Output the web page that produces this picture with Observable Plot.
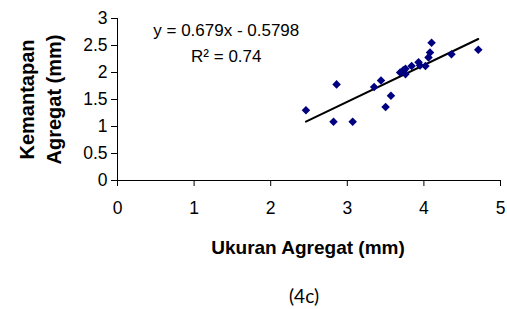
<!DOCTYPE html>
<html>
<head>
<meta charset="utf-8">
<script src="https://cdn.jsdelivr.net/npm/d3@7"></script>
<script src="https://cdn.jsdelivr.net/npm/@observablehq/plot@0.6"></script>
<style>
  html, body { margin: 0; padding: 0; background: #fff; }
</style>
</head>
<body>
<div id="chart"></div>
<script>
// Data
const sizeX = [2.46, 2.82, 2.86, 3.07, 3.35, 3.44, 3.50, 3.57, 3.69, 3.73, 3.76, 3.76, 3.84, 3.93, 3.95, 4.02, 4.06, 4.08, 4.10, 4.36, 4.71];
const stabY = [1.30, 1.09, 1.78, 1.09, 1.73, 1.85, 1.36, 1.57, 2.00, 2.04, 1.97, 2.07, 2.12, 2.19, 2.13, 2.12, 2.28, 2.37, 2.55, 2.34, 2.42];
const trendX = [2.46, 4.71];
const trendY = [1.09, 2.62];
const xTicks = [0, 1, 2, 3, 4, 5];
const yTicks = [0, 0.5, 1, 1.5, 2, 2.5, 3];
const eqText = ["y = 0.679x - 0.5798", "R² = 0.74"];
const eqX = [1.42, 1.42];
const eqY = [2.67, 2.19];
const xLabel = "Ukuran Agregat (mm)";
const yLabel = "Kemantapan\nAgregat (mm)";
const caption = "(4c)";

const points = sizeX.map((x, i) => ({x, y: stabY[i]}));
const trend = trendX.map((x, i) => ({x, y: trendY[i]}));
const eqs = eqText.map((t, i) => ({t, x: eqX[i], y: eqY[i]}));

const chart = Plot.plot({
  width: 507,
  height: 309,
  marginLeft: 117,
  marginRight: 7,
  marginTop: 18,
  marginBottom: 129,
  style: {fontFamily: "'Liberation Sans', Arial, sans-serif", background: "#fff", color: "#000"},
  x: {domain: [0, 5]},
  y: {domain: [0, 3]},
  marks: [
    Plot.axisX({ticks: xTicks, tickSize: 6, tickPadding: 15, fontSize: 17.5, label: null, tickFormat: d => String(d), stroke: "#000"}),
    Plot.axisY({ticks: yTicks, tickSize: 6, tickPadding: 4, fontSize: 17.5, label: null, tickFormat: d => String(d), stroke: "#000"}),
    Plot.ruleX([0], {stroke: "#000"}),
    Plot.ruleY([0], {stroke: "#000"}),
    Plot.line(trend, {x: "x", y: "y", stroke: "#000", strokeWidth: 2}),
    Plot.dot(points, {x: "x", y: "y", symbol: "square", r: 3.4, rotate: 45, fill: "#000080", stroke: "none"}),
    Plot.text(eqs, {x: "x", y: "y", text: "t", fontSize: 17, textAnchor: "middle", lineAnchor: "bottom", fill: "#000"}),
    Plot.text([xLabel], {frameAnchor: "bottom", dx: -1, dy: 67, fontSize: 19, fontWeight: "bold", lineAnchor: "middle", fill: "#000"}),
    Plot.text([yLabel], {frameAnchor: "left", textAnchor: "middle", dx: -79, dy: 0, rotate: -90, fontSize: 20, fontWeight: "bold", lineHeight: 1.35, lineAnchor: "middle", fill: "#000"}),
    Plot.text([caption], {frameAnchor: "bottom", dx: -5, dy: 116, fontSize: 19, fontFamily: "Lato, 'Open Sans', sans-serif", lineAnchor: "middle", fill: "#000"})
  ]
});
document.getElementById("chart").appendChild(chart);
</script>
</body>
</html>
